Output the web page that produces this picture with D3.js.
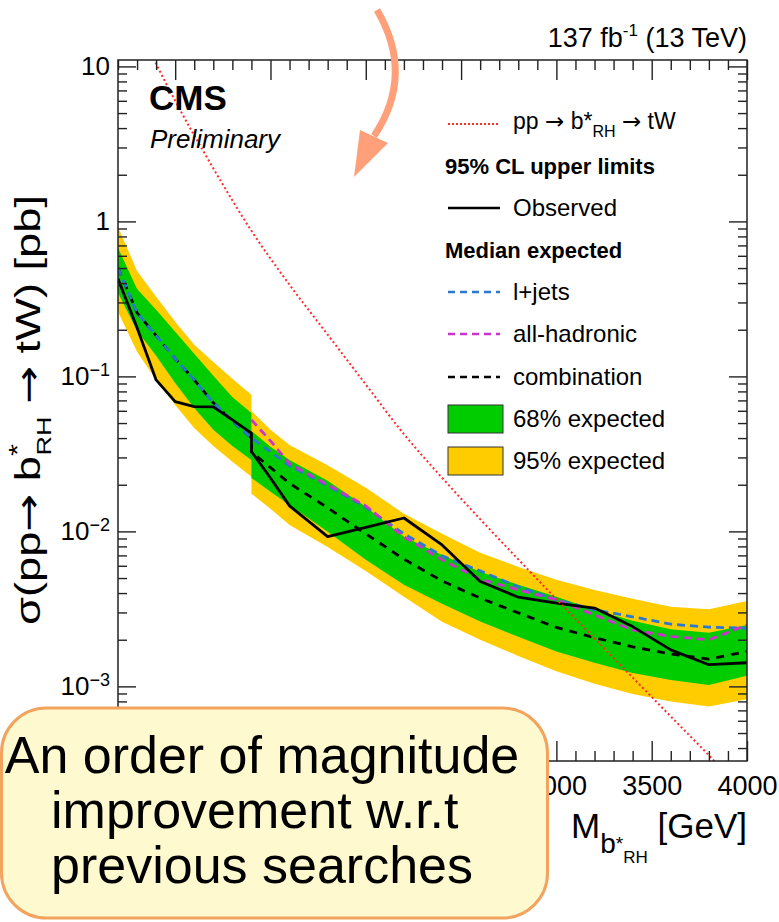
<!DOCTYPE html>
<html>
<head>
<meta charset="utf-8">
<script src="https://cdn.jsdelivr.net/npm/d3@7"></script>
<style>
  body { margin: 0; background: #fff; }
  svg { display: block; }
  text { font-family: "Liberation Sans", Arial, Helvetica, sans-serif; fill: #000; }
  .arrow { font-family: "DejaVu Sans", sans-serif; }
</style>
</head>
<body>
<svg id="chart" width="779" height="922"></svg>
<script>
// b* mass points (GeV); 1400 appears twice: the all-hadronic channel joins the combination there
const massPoints = [700, 800, 900, 1000, 1100, 1200, 1300, 1400, 1400, 1500, 1600, 1800, 2000,
  2200, 2400, 2600, 2800, 3000, 3200, 3400, 3600, 3800, 4000];

// 95% CL upper limits on sigma(pp -> b*RH -> tW) [pb]
const observed = [0.426, 0.206, 0.0949, 0.0688, 0.0639, 0.0636, 0.0524, 0.0430, 0.0327, 0.0221, 0.0146,
  0.00926, 0.0106, 0.0122, 0.00818, 0.00475, 0.00376, 0.00344, 0.00320, 0.00243, 0.00172, 0.00138, 0.00142];
const expLjets = [0.501, 0.257, 0.183, 0.130, 0.0949, 0.0675, 0.0516, 0.0401, 0.0401, 0.0326, 0.0265,
  0.0197, 0.0143, 0.00964, 0.00695, 0.00556, 0.00439, 0.00362, 0.00312, 0.00281, 0.00252, 0.00241, 0.00237];
const expAllHad = [null, null, null, null, null, null, null, null, 0.0524, 0.0384, 0.0273,
  0.0200, 0.0146, 0.00922, 0.00655, 0.00492, 0.00419, 0.00362, 0.00289, 0.00231, 0.00210, 0.00200, 0.00249];
const expComb = [0.501, 0.257, 0.183, 0.130, 0.0949, 0.0675, 0.0516, 0.0401, 0.0326, 0.0258, 0.0204,
  0.0142, 0.00964, 0.00662, 0.00479, 0.00371, 0.00298, 0.00240, 0.00206, 0.00180, 0.00162, 0.00150, 0.00168];
const band68Low = [0.346, 0.197, 0.136, 0.0908, 0.0626, 0.0452, 0.0356, 0.0289, 0.0221, 0.0180, 0.0148,
  0.00993, 0.00655, 0.00452, 0.00341, 0.00262, 0.00209, 0.00168, 0.00142, 0.00122, 0.00110, 0.00102, 0.00117];
const band68High = [0.675, 0.367, 0.269, 0.194, 0.140, 0.101, 0.0737, 0.0581, 0.0445, 0.0351, 0.0289,
  0.0212, 0.0144, 0.00922, 0.00705, 0.00550, 0.00452, 0.00378, 0.00312, 0.00265, 0.00234, 0.00222, 0.00249];
const band95Low = [0.261, 0.144, 0.0949, 0.0655, 0.0465, 0.0356, 0.0281, 0.0225, 0.0175, 0.0140, 0.0110,
  0.00794, 0.00556, 0.00378, 0.00261, 0.00200, 0.00157, 0.00125, 0.00104, 0.000894, 0.000798, 0.000741, 0.000827];
const band95High = [0.921, 0.479, 0.326, 0.225, 0.160, 0.124, 0.0964, 0.0760, 0.0599, 0.0452, 0.0361,
  0.0267, 0.0191, 0.0130, 0.00964, 0.00727, 0.00590, 0.00487, 0.00419, 0.00367, 0.00327, 0.00315, 0.00356];

// theory cross section pp -> b*RH -> tW [pb]
const theoryMass = [800, 1000, 1200, 1400, 1600, 1800, 2000, 2200, 2400, 2600, 2800, 3000, 3200, 3400, 3600, 3800, 4000];
const theoryXsec = [18.4, 6.0, 2.2, 0.87, 0.39, 0.186, 0.0887, 0.0424, 0.0222, 0.0120, 0.0066, 0.00365,
  0.00204, 0.00114, 0.00064, 0.000359, 0.000197];

const xTickValues = [1000, 1500, 2000, 2500, 3000, 3500, 4000];
const yTickValues = [1e-3, 1e-2, 1e-1, 1, 10];

const callout = ["An order of magnitude", "improvement w.r.t\u00a0", "previous searches"];

const frame = { left: 118, right: 747, top: 60, bottom: 761 };
const calloutBox = { x: 1.5, y: 708, w: 546, h: 210 };

const svg = d3.select("#chart");

const x = d3.scaleLinear().domain([700, 4000]).range([frame.left, frame.right]);
const y = d3.scaleLog().domain([3.3e-4, 11]).range([frame.bottom, frame.top]);

const rows = massPoints.map((m, i) => ({
  m,
  obs: observed[i],
  lj: expLjets[i],
  ah: expAllHad[i],
  comb: expComb[i],
  lo68: band68Low[i],
  hi68: band68High[i],
  lo95: band95Low[i],
  hi95: band95High[i],
}));

svg.append("clipPath").attr("id", "plot-clip")
  .append("rect")
  .attr("x", frame.left).attr("y", frame.top)
  .attr("width", frame.right - frame.left).attr("height", frame.bottom - frame.top);

const plot = svg.append("g").attr("clip-path", "url(#plot-clip)");

// expected bands
const band = (lo, hi) => d3.area().x((d) => x(d.m)).y0((d) => y(d[lo])).y1((d) => y(d[hi]));
plot.append("path").datum(rows).attr("d", band("lo95", "hi95")).attr("fill", "#ffcc00");
plot.append("path").datum(rows).attr("d", band("lo68", "hi68")).attr("fill", "#00cc00");

const line = (key) => d3.line().defined((d) => d[key] != null).x((d) => x(d.m)).y((d) => y(d[key]));

plot.append("path").datum(rows).attr("d", line("comb"))
  .attr("fill", "none").attr("stroke", "#000").attr("stroke-width", 2.8).attr("stroke-dasharray", "8 7");
plot.append("path").datum(rows).attr("d", line("lj"))
  .attr("fill", "none").attr("stroke", "#2a78d0").attr("stroke-width", 2.8).attr("stroke-dasharray", "8 5");
plot.append("path").datum(rows).attr("d", line("ah"))
  .attr("fill", "none").attr("stroke", "#cc33cc").attr("stroke-width", 2.8).attr("stroke-dasharray", "8 5");
plot.append("path").datum(rows).attr("d", line("obs"))
  .attr("fill", "none").attr("stroke", "#000").attr("stroke-width", 2.8).attr("stroke-linejoin", "round");

// theory curve
plot.append("path")
  .datum(theoryMass.map((m, i) => ({ m, v: theoryXsec[i] })))
  .attr("d", d3.line().curve(d3.curveMonotoneX).x((d) => x(d.m)).y((d) => y(d.v)))
  .attr("fill", "none").attr("stroke", "#ff2a2a").attr("stroke-width", 2)
  .attr("stroke-dasharray", "2 2.6");

// axes: ROOT style, ticks pointing inside the frame
const tickStyle = (g) => {
  g.select(".domain").remove();
  g.selectAll(".tick line").attr("stroke", "#222").attr("stroke-width", 1.4);
};

const xMinor = d3.range(700, 4001, 100).filter((v) => !xTickValues.includes(v));
const yMinor = [];
for (let e = -4; e <= 1; e++) {
  for (let k = 2; k <= 9; k++) {
    const v = k * Math.pow(10, e);
    if (v >= 3.3e-4 && v <= 11) yMinor.push(v);
  }
}

// labels sitting fully behind the callout box are not drawn
const xLabel = (v) => (x(v) + 30 > calloutBox.x + calloutBox.w ? d3.format("d")(v) : "");

const xAxisB = svg.append("g").attr("transform", `translate(0,${frame.bottom})`)
  .call(d3.axisBottom(x).tickValues(xTickValues).tickSize(-20).tickPadding(15).tickFormat(xLabel))
  .call(tickStyle);
xAxisB.selectAll(".tick text").attr("font-size", 27).attr("font-family", "Liberation Sans, Arial, sans-serif");
svg.append("g").attr("transform", `translate(0,${frame.bottom})`)
  .call(d3.axisBottom(x).tickValues(xMinor).tickSize(-10).tickFormat(""))
  .call(tickStyle);
svg.append("g").attr("transform", `translate(0,${frame.top})`)
  .call(d3.axisTop(x).tickValues(xTickValues).tickSize(-20).tickFormat(""))
  .call(tickStyle);
svg.append("g").attr("transform", `translate(0,${frame.top})`)
  .call(d3.axisTop(x).tickValues(xMinor).tickSize(-10).tickFormat(""))
  .call(tickStyle);

const yAxisL = svg.append("g").attr("transform", `translate(${frame.left},0)`)
  .call(d3.axisLeft(y).tickValues(yTickValues).tickSize(-18).tickPadding(8))
  .call(tickStyle);
yAxisL.selectAll(".tick text").each(function (d) {
  const e = Math.round(Math.log10(d));
  const t = d3.select(this).attr("font-size", 26).attr("font-family", "Liberation Sans, Arial, sans-serif");
  if (e >= 0) {
    t.text(e === 0 ? "1" : "10");
  } else {
    t.text("10");
    t.append("tspan").attr("dy", "-0.5em").attr("font-size", 18).text("\u2212" + -e);
  }
});
svg.append("g").attr("transform", `translate(${frame.left},0)`)
  .call(d3.axisLeft(y).tickValues(yMinor).tickSize(-9).tickFormat(""))
  .call(tickStyle);
svg.append("g").attr("transform", `translate(${frame.right},0)`)
  .call(d3.axisRight(y).tickValues(yTickValues).tickSize(-18).tickFormat(""))
  .call(tickStyle);
svg.append("g").attr("transform", `translate(${frame.right},0)`)
  .call(d3.axisRight(y).tickValues(yMinor).tickSize(-9).tickFormat(""))
  .call(tickStyle);

svg.append("rect")
  .attr("x", frame.left).attr("y", frame.top)
  .attr("width", frame.right - frame.left).attr("height", frame.bottom - frame.top)
  .attr("fill", "none").attr("stroke", "#222").attr("stroke-width", 1.5);

// y title, stretched along its reading direction like the ROOT output
const yTitle = svg.append("text").attr("text-anchor", "middle").attr("font-size", 35);
yTitle.append("tspan").text("\u03c3(pp");
yTitle.append("tspan").attr("class", "arrow").text("\u2192");
yTitle.append("tspan").text(" b");
yTitle.append("tspan").attr("font-size", 24).attr("dy", -14).text("*");
yTitle.append("tspan").attr("font-size", 21).attr("dx", -9).attr("dy", 25).text("RH");
yTitle.append("tspan").attr("dy", -11).text("\u00a0");
yTitle.append("tspan").attr("class", "arrow").text("\u2192");
yTitle.append("tspan").text(" tW) [pb]");
const yTitleLen = yTitle.node().getBBox().width;
yTitle.attr("transform", `translate(40,410) rotate(-90) scale(${430 / yTitleLen},1)`);

const xTitle = svg.append("text")
  .attr("x", frame.right).attr("y", 838)
  .attr("text-anchor", "end").attr("font-size", 35);
xTitle.append("tspan").text("M");
xTitle.append("tspan").attr("font-size", 28).attr("dy", 15).text("b");
xTitle.append("tspan").attr("font-size", 19).attr("dy", -3).text("*");
xTitle.append("tspan").attr("font-size", 17).attr("dy", 13).text("RH");
xTitle.append("tspan").attr("dy", -25).text("\u00a0[GeV]");

// header
const lumi = svg.append("text").attr("x", frame.right).attr("y", 47)
  .attr("text-anchor", "end").attr("font-size", 27);
lumi.append("tspan").text("137 fb");
lumi.append("tspan").attr("font-size", 17).attr("dy", -11).text("-1");
lumi.append("tspan").attr("dy", 11).text(" (13 TeV)");

svg.append("text").attr("x", 149).attr("y", 110)
  .attr("font-size", 35).attr("font-weight", "bold").text("CMS");
svg.append("text").attr("x", 150).attr("y", 148)
  .attr("font-size", 26).attr("font-style", "italic").text("Preliminary");

// legend
const lg = svg.append("g");
const lx1 = 448, lx2 = 500, ltx = 513;
lg.append("line").attr("x1", lx1).attr("x2", lx2).attr("y1", 124).attr("y2", 124)
  .attr("stroke", "#ff2a2a").attr("stroke-width", 2).attr("stroke-dasharray", "2 2");
const th = lg.append("text").attr("x", ltx).attr("y", 129).attr("font-size", 23);
th.append("tspan").text("pp ");
th.append("tspan").attr("class", "arrow").text("\u2192");
th.append("tspan").text(" b*");
th.append("tspan").attr("font-size", 16).attr("dy", 8).text("RH");
th.append("tspan").attr("dy", -8).text(" ");
th.append("tspan").attr("class", "arrow").text("\u2192");
th.append("tspan").text(" tW");

lg.append("text").attr("x", 445).attr("y", 174).attr("font-size", 22).attr("font-weight", "bold")
  .text("95% CL upper limits");
lg.append("line").attr("x1", lx1).attr("x2", lx2).attr("y1", 208).attr("y2", 208)
  .attr("stroke", "#000").attr("stroke-width", 2.5);
lg.append("text").attr("x", ltx).attr("y", 216).attr("font-size", 24).text("Observed");
lg.append("text").attr("x", 445).attr("y", 258).attr("font-size", 22).attr("font-weight", "bold")
  .text("Median expected");

const dashed = [
  { y: 292, color: "#2a78d0", label: "l+jets" },
  { y: 334, color: "#cc33cc", label: "all-hadronic" },
  { y: 377, color: "#000", label: "combination" },
];
dashed.forEach((d) => {
  lg.append("line").attr("x1", lx1).attr("x2", lx2).attr("y1", d.y).attr("y2", d.y)
    .attr("stroke", d.color).attr("stroke-width", 2.5).attr("stroke-dasharray", "7 5");
  lg.append("text").attr("x", ltx).attr("y", d.y + 8).attr("font-size", 24).text(d.label);
});

const boxes = [
  { y: 405, color: "#00cc00", label: "68% expected" },
  { y: 447, color: "#ffcc00", label: "95% expected" },
];
boxes.forEach((d) => {
  lg.append("rect").attr("x", lx1).attr("y", d.y).attr("width", 55).attr("height", 28)
    .attr("fill", d.color).attr("stroke", "#333").attr("stroke-width", 1);
  lg.append("text").attr("x", ltx).attr("y", d.y + 22).attr("font-size", 24).text(d.label);
});

// annotation arrow
svg.append("path").attr("d", "M377,10 Q415,75 374,136")
  .attr("fill", "none").attr("stroke", "#ffa07a").attr("stroke-width", 7);
svg.append("path").attr("d", "M360,130 L388,143 L354,177 Z").attr("fill", "#ffa07a");

// callout box
svg.append("rect").attr("x", calloutBox.x).attr("y", calloutBox.y)
  .attr("width", calloutBox.w).attr("height", calloutBox.h)
  .attr("rx", 45).attr("ry", 45)
  .attr("fill", "#fff9cf").attr("stroke", "#f2a35e").attr("stroke-width", 3);
svg.append("g").selectAll("text").data(callout).join("text")
  .attr("x", 262).attr("y", (d, i) => 773 + i * 55)
  .attr("text-anchor", "middle").attr("font-size", 52)
  .text((d) => d);
</script>
</body>
</html>
